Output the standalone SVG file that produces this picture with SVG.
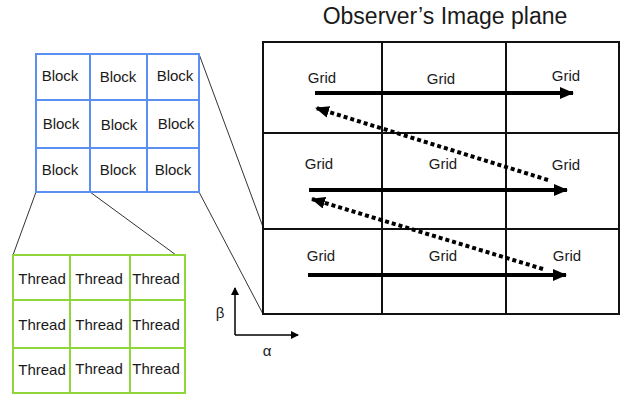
<svg xmlns="http://www.w3.org/2000/svg" width="633" height="399" viewBox="0 0 633 399">
<defs>
<style>
text{font-family:"Liberation Sans",Arial,sans-serif;fill:#1a1a1a;text-anchor:middle;dominant-baseline:central}
.blk{fill:#fff;stroke:#5b8ff2;stroke-width:2}
.thr{fill:#fff;stroke:#8fd63c;stroke-width:2}
.grd{fill:#fff;stroke:#111;stroke-width:2}
.zl{stroke:#333;stroke-width:1;fill:none}
.solid{stroke:#000;stroke-width:4;fill:none}
.dot{stroke:#000;stroke-width:4;fill:none;stroke-dasharray:4 3}
.ax{stroke:#000;stroke-width:1.5;fill:none}
.b{font-size:15px}
.t{font-size:15px}
.g{font-size:15px}
</style>
<marker id="ah" markerUnits="userSpaceOnUse" markerWidth="14" markerHeight="12" refX="13" refY="6" orient="auto">
<path d="M0,0 L14,6 L0,12 Z" fill="#000"/>
</marker>
<marker id="ahs" markerUnits="userSpaceOnUse" markerWidth="8" markerHeight="8" refX="7" refY="4" orient="auto">
<path d="M0,0 L8,4 L0,8 Z" fill="#000"/>
</marker>
</defs>
<text x="445" y="16" style="font-size:23px">Observer’s Image plane</text>
<g id="connectors">
<line class="zl" x1="199" y1="54" x2="263" y2="227"/>
<line class="zl" x1="199" y1="192" x2="263" y2="314"/>
<line class="zl" x1="36" y1="192" x2="13" y2="255"/>
<line class="zl" x1="90" y1="192" x2="176" y2="255"/>
</g>
<g id="blocks">
<rect class="blk" x="36" y="54" width="163" height="138"/>
<line class="blk" x1="90" y1="54" x2="90" y2="192"/>
<line class="blk" x1="147" y1="54" x2="147" y2="192"/>
<line class="blk" x1="36" y1="100" x2="199" y2="100"/>
<line class="blk" x1="36" y1="148" x2="199" y2="148"/>
<text class="b" x="60" y="75">Block</text>
<text class="b" x="118" y="76">Block</text>
<text class="b" x="175" y="75">Block</text>
<text class="b" x="61" y="123">Block</text>
<text class="b" x="119" y="124">Block</text>
<text class="b" x="176" y="123">Block</text>
<text class="b" x="60" y="169">Block</text>
<text class="b" x="118" y="169">Block</text>
<text class="b" x="173" y="169">Block</text>
</g>
<g id="threads">
<rect class="thr" x="13" y="255" width="172" height="138"/>
<line class="thr" x1="70" y1="255" x2="70" y2="393"/>
<line class="thr" x1="130" y1="255" x2="130" y2="393"/>
<line class="thr" x1="13" y1="300" x2="185" y2="300"/>
<line class="thr" x1="13" y1="348" x2="185" y2="348"/>
<text class="t" x="42" y="278">Thread</text>
<text class="t" x="99" y="278">Thread</text>
<text class="t" x="156" y="278">Thread</text>
<text class="t" x="42" y="324">Thread</text>
<text class="t" x="99" y="324">Thread</text>
<text class="t" x="156" y="324">Thread</text>
<text class="t" x="42" y="369">Thread</text>
<text class="t" x="99" y="368">Thread</text>
<text class="t" x="156" y="368">Thread</text>
</g>
<g id="image-plane">
<rect class="grd" x="263" y="42" width="356" height="272"/>
<line class="grd" x1="382" y1="42" x2="382" y2="314"/>
<line class="grd" x1="506" y1="42" x2="506" y2="314"/>
<line class="grd" x1="263" y1="133" x2="619" y2="133"/>
<line class="grd" x1="263" y1="229" x2="619" y2="229"/>
<text class="g" x="322" y="77">Grid</text>
<text class="g" x="441" y="78">Grid</text>
<text class="g" x="566" y="75">Grid</text>
<text class="g" x="319" y="163">Grid</text>
<text class="g" x="443" y="163">Grid</text>
<text class="g" x="566" y="164">Grid</text>
<text class="g" x="321" y="255">Grid</text>
<text class="g" x="443" y="255">Grid</text>
<text class="g" x="567" y="255">Grid</text>
</g>
<g id="scan-arrows">
<line class="solid" x1="315" y1="93" x2="573" y2="93" marker-end="url(#ah)"/>
<line class="solid" x1="309" y1="190" x2="567" y2="190" marker-end="url(#ah)"/>
<line class="solid" x1="308" y1="275" x2="566" y2="275" marker-end="url(#ah)"/>
<line class="dot" x1="548" y1="180" x2="316" y2="108" marker-end="url(#ah)"/>
<line class="dot" x1="543" y1="269" x2="312" y2="199" marker-end="url(#ah)"/>
</g>
<g id="axes">
<line class="ax" x1="235" y1="335" x2="235" y2="288" marker-end="url(#ahs)"/>
<line class="ax" x1="235" y1="335" x2="298" y2="335" marker-end="url(#ahs)"/>
<text style="font-size:15px" x="220" y="312">β</text>
<text style="font-size:15px" x="267" y="350">α</text>
</g>
</svg>
